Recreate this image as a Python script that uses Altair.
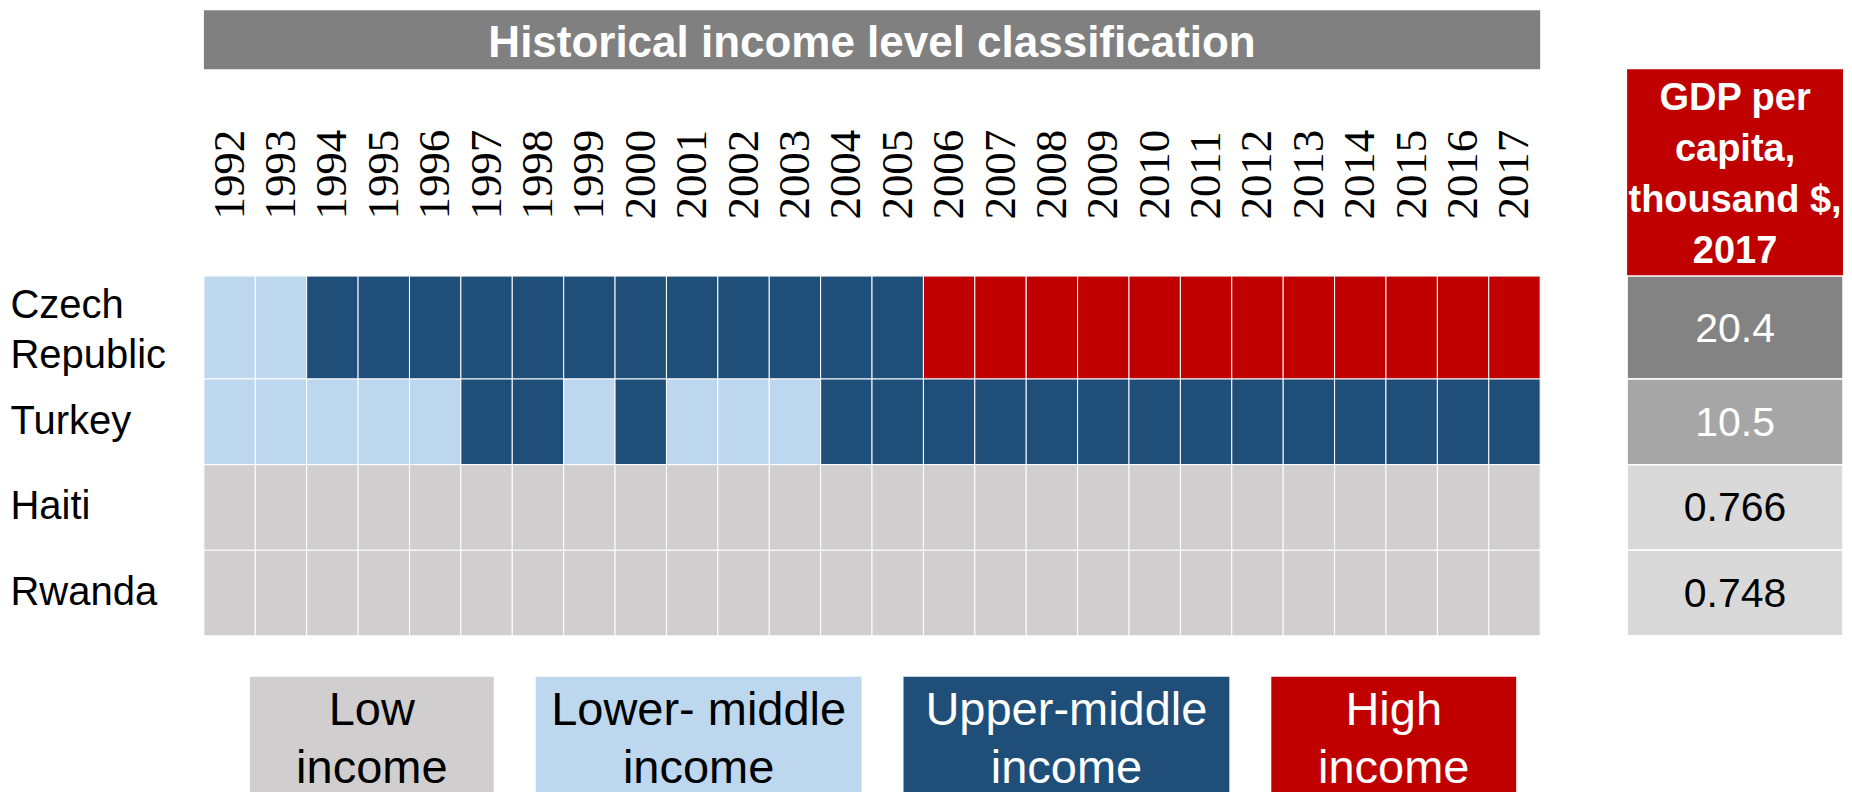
import altair as alt
import pandas as pd

# ---------------- data ----------------
years = ["1992", "1993", "1994", "1995", "1996", "1997", "1998", "1999", "2000",
         "2001", "2002", "2003", "2004", "2005", "2006", "2007", "2008", "2009",
         "2010", "2011", "2012", "2013", "2014", "2015", "2016", "2017"]
countries = ["Czech Republic", "Turkey", "Haiti", "Rwanda"]
levels = ["Low income", "Lower- middle income", "Upper-middle income", "High income"]
level_colors = ["#D0CECE", "#BDD7EE", "#1F4E79", "#C00000"]
L, LM, UM, HI = levels

czech_levels = [LM, LM,
                UM, UM, UM, UM, UM, UM, UM, UM, UM, UM, UM, UM,
                HI, HI, HI, HI, HI, HI, HI, HI, HI, HI, HI, HI]
turkey_levels = [LM, LM, LM, LM, LM, UM, UM, LM, UM, LM, LM, LM,
                 UM, UM, UM, UM, UM, UM, UM, UM, UM, UM, UM, UM, UM, UM]
haiti_levels = [L] * 26
rwanda_levels = [L] * 26

gdp_values = [20.4, 10.5, 0.766, 0.748]
gdp_labels = ["20.4", "10.5", "0.766", "0.748"]
gdp_cell_colors = ["#838383", "#A6A6A6", "#D9D9D9", "#D9D9D9"]

title_text = "Historical income level classification"
gdp_header_text = "GDP per\ncapita,\nthousand $,\n2017"
legend_texts = ["Low\nincome", "Lower- middle\nincome", "Upper-middle\nincome", "High\nincome"]
legend_text_colors = ["black", "black", "white", "white"]

SANS = "Liberation Sans"
SERIF = "Liberation Serif"

rows = []
for c, lv in zip(countries, [czech_levels, turkey_levels, haiti_levels, rwanda_levels]):
    for y, l in zip(years, lv):
        rows.append({"country": c, "year": y, "level": l})
heat_df = pd.DataFrame(rows)
gdp_df = pd.DataFrame({"country": countries, "gdp": gdp_values, "label": gdp_labels})

PLOT_W = 1337
GDP_W = 216
CZ_H = 103
REST_H = 257


def band():
    return alt.Scale(paddingInner=0, paddingOuter=0)


def spacer(w, h):
    return alt.Chart(pd.DataFrame({"s": ["s"]})).mark_rect(opacity=0).encode(
        x=alt.X("s:N", axis=None, scale=band()),
        y=alt.Y("s:N", axis=None, scale=band()),
    ).properties(width=w, height=h)


def heat_panel(sel, height, top_axis, label_offset):
    d = heat_df[heat_df.country.isin(sel)]
    if top_axis:
        xax = alt.Axis(orient="top", labelAngle=270, labelAlign="left",
                       labelBaseline="middle", labelPadding=57, labelFont=SERIF,
                       labelFontSize=45, labelColor="black", labelOverlap=False,
                       ticks=False, tickSize=0, domain=False, title=None)
        xenc = alt.X("year:O", scale=alt.Scale(domain=years, paddingInner=0, paddingOuter=0), axis=xax)
    else:
        xenc = alt.X("year:O", scale=alt.Scale(domain=years, paddingInner=0, paddingOuter=0), axis=None)
    yax = alt.Axis(labelAlign="left", labelBaseline="middle", labelPadding=194,
                   labelFont=SANS, labelFontSize=40, labelColor="black",
                   labelExpr="split(datum.label, ' ')", labelLineHeight=50,
                   labelOffset=label_offset, labelLimit=400, labelOverlap=False,
                   ticks=False, tickSize=0, domain=False, title=None)
    return alt.Chart(d).mark_rect(stroke="white", strokeWidth=1).encode(
        x=xenc,
        y=alt.Y("country:N", scale=alt.Scale(domain=sel, paddingInner=0, paddingOuter=0), axis=yax),
        color=alt.Color("level:N", scale=alt.Scale(domain=levels, range=level_colors), legend=None),
    ).properties(width=PLOT_W, height=height)


def box_panel(text, fill, tcolor, w, h, size, weight, lh, dy):
    base = alt.Chart(pd.DataFrame({"k": [text]})).encode(
        x=alt.X("k:N", axis=None, scale=band()),
        y=alt.Y("k:N", axis=None, scale=band()),
    )
    return alt.layer(
        base.mark_rect(color=fill),
        base.mark_text(color=tcolor, font=SANS, fontSize=size, fontWeight=weight,
                       baseline="middle", lineBreak="\n", lineHeight=lh, dy=dy).encode(text="k:N"),
    ).properties(width=w, height=h)


def gdp_panel(sel, height):
    d = gdp_df[gdp_df.country.isin(sel)]
    base = alt.Chart(d).transform_calculate(col="'gdp'").encode(
        x=alt.X("col:N", axis=None, scale=band()),
        y=alt.Y("country:N", scale=alt.Scale(domain=sel, paddingInner=0, paddingOuter=0), axis=None),
    )
    rect = base.mark_rect(stroke="white", strokeWidth=1.5).encode(
        fill=alt.Fill("country:N", scale=alt.Scale(domain=countries, range=gdp_cell_colors), legend=None)
    )
    txt = base.mark_text(font=SANS, fontSize=41, dy=2).encode(
        text="label:N",
        color=alt.condition("datum.gdp > 5", alt.value("white"), alt.value("black")),
    )
    return alt.layer(rect, txt).properties(width=GDP_W, height=height)


title_panel = box_panel(title_text, "#808080", "white", PLOT_W, 59, 44, "bold", 50, 4)

legend_widths = [244, 326, 326, 245]
legend_boxes = [box_panel(t, c, tc, w, 125, 47, "normal", 58, -28)
                for t, c, tc, w in zip(legend_texts, level_colors, legend_text_colors, legend_widths)]
legend_row = alt.hconcat(spacer(4, 1), *legend_boxes, spacing=42, bounds="flush")

left = alt.vconcat(
    title_panel,
    spacer(PLOT_W, 207),
    heat_panel(["Czech Republic"], CZ_H, True, -22),
    heat_panel(["Turkey", "Haiti", "Rwanda"], REST_H, False, 0),
    spacer(PLOT_W, 41),
    legend_row,
    spacing=0, bounds="flush",
)

gdp_header = box_panel(gdp_header_text, "#C00000", "white", GDP_W, 207, 38, "bold", 51, -74)

right = alt.vconcat(
    spacer(GDP_W, 59),
    gdp_header,
    gdp_panel(["Czech Republic"], CZ_H),
    gdp_panel(["Turkey", "Haiti", "Rwanda"], REST_H),
    spacing=0, bounds="flush",
)

chart = alt.hconcat(left, right, spacing=85).properties(
    padding={"left": 2, "top": 2, "right": 0, "bottom": 0}
).configure_view(strokeWidth=0)

chart.save("out.html", embed_options={"renderer": "svg", "actions": False})
